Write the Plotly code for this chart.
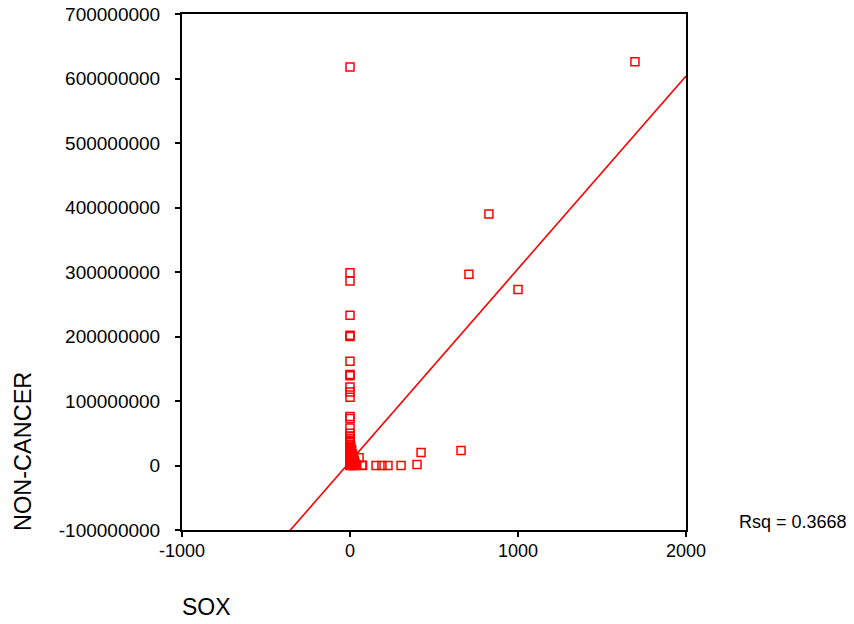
import plotly.graph_objects as go

# ---- data ----
sox = [
    1696, 0, 827, 708, 1000, 661, 423, 399, 304, 226, 190, 155, 71, 54, 75,
    0, 0, 0, 0, 0, 0, 0, 0, 0, 0, 0, 0, 0, 0, 0, 0, 0, 0,
    0, 0, 0, 0, 0, 0, 0, 0, 0, 0, 0, 0, 0, 0, 0, 0, 0, 0, 0, 0, 0, 0,
    5, 5, 5, 5, 5,
    10, 10, 10, 10, 10,
    15, 15, 15, 15,
    20, 20, 20,
    25, 25, 25,
    30, 30, 35, 40,
]
noncancer = [
    625.8e6, 618e6, 389.8e6, 296.6e6, 273e6, 23.3e6, 20e6, 1.5e6, 0, 0, 0, 0, 0.3e6, 12e6, 0,
    299e6, 286e6, 233e6, 202e6, 200e6, 161.5e6, 141e6, 139e6, 121.6e6, 113.8e6, 106e6,
    76e6, 73e6, 58e6, 50e6, 45e6, 42e6, 39e6,
    36e6, 33e6, 30e6, 28e6, 26e6, 24e6, 22e6, 20e6, 18e6, 16e6, 14e6, 12e6, 10e6, 8e6,
    6e6, 5e6, 4e6, 3e6, 2e6, 1e6, 0.5e6, 0,
    30e6, 20e6, 10e6, 4e6, 1e6,
    25e6, 15e6, 6e6, 2e6, 0,
    18e6, 8e6, 3e6, 0.5e6,
    12e6, 5e6, 1e6,
    8e6, 2e6, 0,
    4e6, 0.5e6, 1e6, 0.2e6,
]

fit_intercept = 6e6
fit_slope = 299000
fit_x = [-1000, 2000]
rsq_label = "Rsq = 0.3668"

x_ticks = [-1000, 0, 1000, 2000]
x_ticktext = ["-1000", "0", "1000", "2000"]
y_ticks = [-100e6, 0, 100e6, 200e6, 300e6, 400e6, 500e6, 600e6, 700e6]
y_ticktext = ["-100000000", "0", "100000000", "200000000", "300000000",
              "400000000", "500000000", "600000000", "700000000"]

x_title = "SOX"
y_title = "NON-CANCER"

# ---- figure ----
W, H = 854, 624
L, R, T, B = 182, 168, 14, 94
pw, ph = W - L - R, H - T - B


def px(xp):
    return (xp - L) / pw


def py(yp):
    return (H - B - yp) / ph


FONT = "Liberation Sans, Arial, sans-serif"
RED = "#ff0000"

fig = go.Figure()
fig.add_trace(go.Scatter(
    x=fit_x,
    y=[fit_intercept + fit_slope * v for v in fit_x],
    mode="lines",
    line=dict(color=RED, width=1.6),
    hoverinfo="skip",
    showlegend=False,
))
fig.add_trace(go.Scatter(
    x=sox, y=noncancer, mode="markers",
    marker=dict(symbol="square-open", size=8, color=RED, line=dict(color=RED, width=1.5)),
    showlegend=False,
    cliponaxis=False,
))

axis_common = dict(
    showline=True, linecolor="black", linewidth=2, mirror=True,
    ticks="outside", ticklen=5, tickwidth=1.5, tickcolor="black",
    showgrid=False, zeroline=False,
)

fig.update_xaxes(range=[-1000, 2000], tickvals=x_ticks, ticktext=x_ticktext,
                 ticklabelstandoff=-2,
                 tickfont=dict(family=FONT, size=18, color="black"), **axis_common)
fig.update_yaxes(range=[-100e6, 700e6], tickvals=y_ticks, ticktext=y_ticktext,
                 ticklabelstandoff=11,
                 tickfont=dict(family=FONT, size=19, color="black"), **axis_common)

fig.add_annotation(text=x_title, xref="paper", yref="paper",
                   x=px(180), y=py(607), xanchor="left", yanchor="middle",
                   showarrow=False, font=dict(family=FONT, size=23, color="black"))
fig.add_annotation(text=y_title, xref="paper", yref="paper",
                   x=px(23), y=py(452), xanchor="center", yanchor="middle",
                   textangle=-90,
                   showarrow=False, font=dict(family=FONT, size=23.5, color="black"))
fig.add_annotation(text=rsq_label, xref="paper", yref="paper",
                   x=px(737), y=py(522), xanchor="left", yanchor="middle",
                   showarrow=False, font=dict(family=FONT, size=18, color="black"))

fig.update_layout(
    width=W, height=H,
    margin=dict(l=L, r=R, t=T, b=B, autoexpand=False),
    paper_bgcolor="white", plot_bgcolor="white",
    font=dict(family=FONT, color="black"),
)

fig.write_html("out.html", config={"displayModeBar": False},
               post_script="document.body.style.margin='0';")
